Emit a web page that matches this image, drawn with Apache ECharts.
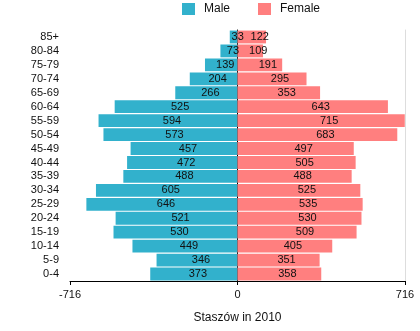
<!DOCTYPE html>
<html><head><meta charset="utf-8">
<script src="https://cdn.jsdelivr.net/npm/echarts@6/dist/echarts.min.js"></script>
<style>html,body{margin:0;padding:0;background:#fff}#c{width:420px;height:331px}</style>
</head><body><div id="c"></div>
<script>
const categories = ['0-4','5-9','10-14','15-19','20-24','25-29','30-34','35-39','40-44','45-49','50-54','55-59','60-64','65-69','70-74','75-79','80-84','85+'];
const male = [373,346,449,530,521,646,605,488,472,457,573,594,525,266,204,139,73,33];
const female = [358,351,405,509,530,535,525,488,505,497,683,715,643,353,295,191,109,122];
const xTicks = [-716, 0, 716];
const title = 'Staszów in 2010';

const chart = echarts.init(document.getElementById('c'), null, {renderer:'canvas'});
const font = 'Liberation Sans, Arial, sans-serif';
const txt = '#111';
chart.setOption({
  animation:false,
  textStyle:{fontFamily:font},
  legend:{
    top:-2, left:177, itemWidth:13, itemHeight:12, itemGap:28, icon:'rect',
    textStyle:{fontSize:12, color:txt, fontFamily:font, padding:[0,0,0,4]},
    data:['Male','Female']
  },
  grid:{left:70, right:15, top:30, bottom:50},
  xAxis:{
    type:'value', min:xTicks[0], max:xTicks[2], interval:716,
    name:title, nameLocation:'middle', nameGap:31,
    nameTextStyle:{fontSize:12, color:txt, fontFamily:font},
    axisLine:{show:true, lineStyle:{color:'#000', width:1}},
    axisTick:{show:true, length:4, lineStyle:{color:'#000'}},
    axisLabel:{fontSize:11, color:txt, margin:8, fontFamily:font},
    splitLine:{show:false}
  },
  yAxis:[{
    type:'category', data:categories,
    axisLine:{show:true, lineStyle:{color:'#000', width:1}},
    axisTick:{show:false},
    axisLabel:{interval:0, fontSize:11, color:txt, margin:11, fontFamily:font}
  },{
    type:'category', data:categories, position:'right',
    axisLine:{show:true, lineStyle:{color:'#ddd', width:1}},
    axisTick:{show:false}, axisLabel:{show:false}
  }],
  series:[{
    name:'Male', type:'bar', data:male.map(v=>-v), barGap:'-100%', barCategoryGap:'8%',
    itemStyle:{color:'#32b1cc'},
    label:{show:true, position:'inside', offset:[4,0], color:txt, fontSize:11, fontFamily:font,
      formatter:p=>Math.abs(p.value)}
  },{
    name:'Female', type:'bar', data:female, barGap:'-100%', barCategoryGap:'8%',
    itemStyle:{color:'#ff7f7f'},
    label:{show:true, position:'inside', offset:[8,0], color:txt, fontSize:11, fontFamily:font}
  }]
});
</script></body></html>
